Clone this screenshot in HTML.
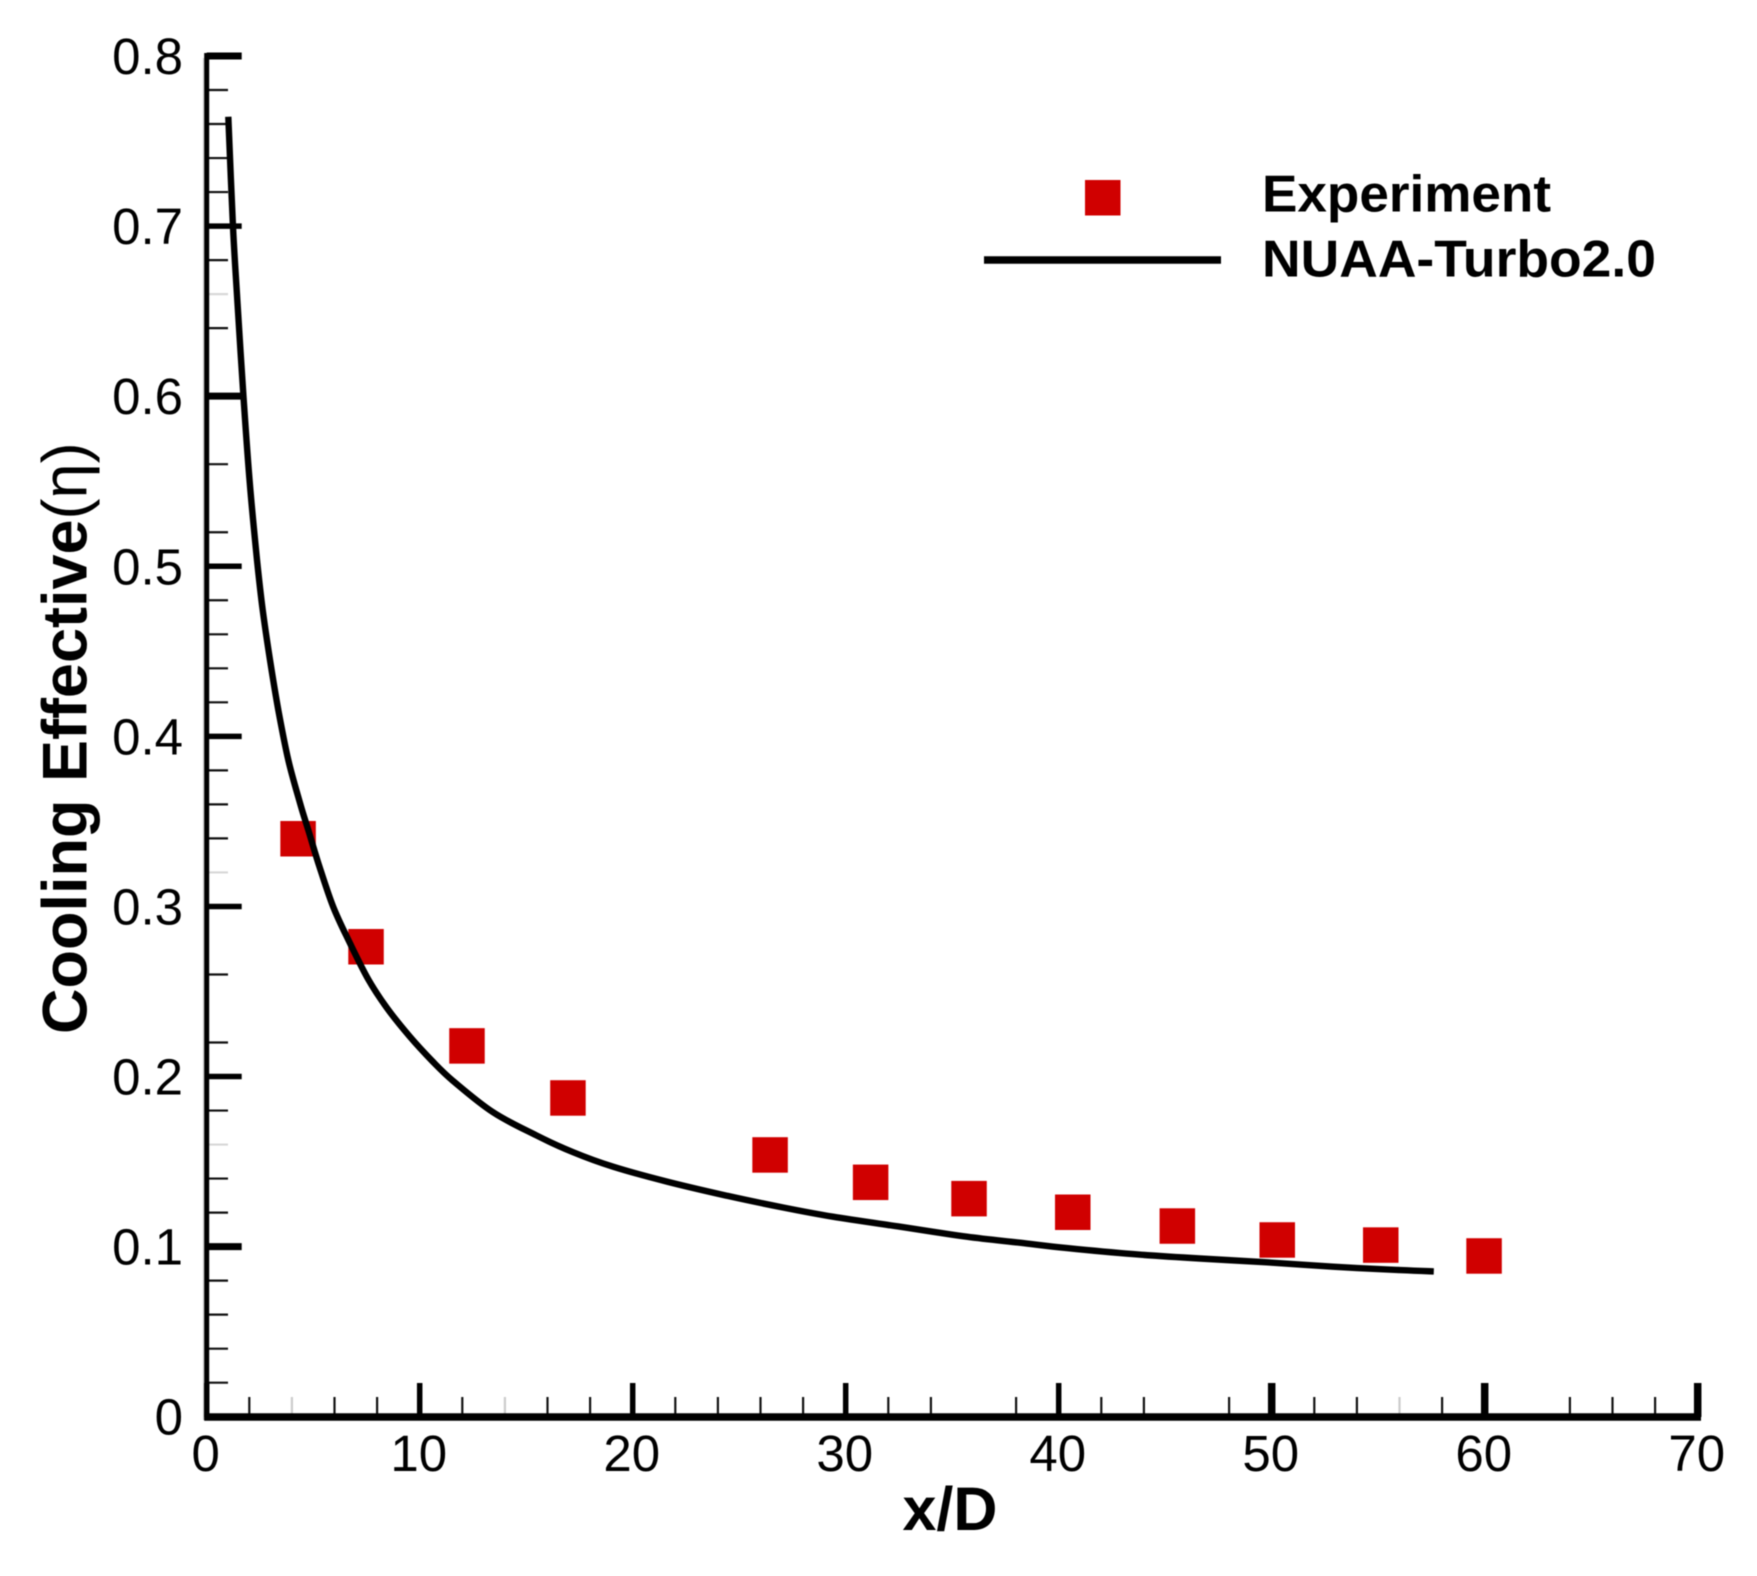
<!DOCTYPE html>
<html lang="en">
<head>
<meta charset="utf-8">
<title>Cooling Effective vs x/D</title>
<style>
html,body{margin:0;padding:0;background:#fff;}
svg{display:block;filter:blur(0.5px);}
text{font-family:"Liberation Sans",Arial,sans-serif;fill:#000;}
</style>
</head>
<body>
<svg id="chart" xmlns="http://www.w3.org/2000/svg" width="1757" height="1576" viewBox="0 0 1757 1576">
  <rect x="0" y="0" width="1757" height="1576" fill="#fff"/>
  <g id="ticks"></g>
  <g id="labels"></g>
  <line x1="203.5" y1="58" x2="203.5" y2="1420" stroke="#ccc" stroke-width="1.2"/>
  <line x1="206.7" y1="53" x2="206.7" y2="1420" stroke="#000" stroke-width="5"/>
  <line x1="204.2" y1="1417" x2="1701" y2="1417" stroke="#000" stroke-width="7.5"/>
  <g id="markers"></g>
  <path id="curve" fill="none" stroke="#000" stroke-width="6.4" stroke-linejoin="round"/>
  <text x="902.5" y="1530" font-size="61" font-weight="bold">x/D</text>
  <text transform="translate(86.7 1034) rotate(-90)" font-size="63" font-weight="bold">Cooling Effective<tspan font-weight="normal">(η)</tspan></text>
  <g>
    <rect x="1085" y="180" width="35.5" height="35.5" fill="#d00000"/>
    <text x="1262" y="211.6" font-size="52" font-weight="bold" textLength="289" lengthAdjust="spacingAndGlyphs">Experiment</text>
    <line x1="984" y1="260" x2="1221" y2="260" stroke="#000" stroke-width="7.5"/>
    <text x="1262" y="276.7" font-size="52" font-weight="bold" textLength="394" lengthAdjust="spacingAndGlyphs">NUAA-Turbo2.0</text>
  </g>
</svg>
<script>
const xMajorTicks = [0, 10, 20, 30, 40, 50, 60, 70];
const xTickLabels = ['0', '10', '20', '30', '40', '50', '60', '70'];
const xMinorTicks = [2, 6, 8, 12, 16, 18, 22, 24, 26, 28, 32, 34, 38, 42, 44, 48, 52, 54, 58, 64, 66, 68];
const xFaintTicks = [4, 14, 56];
const yMajorTicks = [0, 0.1, 0.2, 0.3, 0.4, 0.5, 0.6, 0.7, 0.8];
const yTickLabels = ['0', '0.1', '0.2', '0.3', '0.4', '0.5', '0.6', '0.7', '0.8'];
const yMinorTicks = [0.02, 0.04, 0.06, 0.08, 0.12, 0.14, 0.18, 0.22, 0.26, 0.34, 0.36, 0.38, 0.42, 0.44, 0.46, 0.48, 0.52, 0.56, 0.64, 0.68, 0.72, 0.74, 0.76, 0.78];
const yFaintTicks = [0.16, 0.32, 0.66];

const experimentX = [4.29, 7.48, 12.22, 16.96, 26.45, 31.17, 35.79, 40.66, 45.57, 50.26, 55.12, 59.97];
const experimentY = [0.3398, 0.2763, 0.2180, 0.1874, 0.1539, 0.1378, 0.1282, 0.1202, 0.1121, 0.1039, 0.1009, 0.0945];

const turboX = [1.014, 1.235, 1.437, 1.728, 2.023, 2.362, 2.629, 2.972, 3.362, 3.831, 4.38, 4.77, 5.24, 5.94, 6.73, 7.59, 8.45, 9.54, 10.56, 11.56, 13.44, 15.46, 17.20, 19.08, 21.61, 24.43, 27.06, 29.40, 32.55, 35.69, 38.18, 40.39, 43.49, 46.63, 49.78, 52.88, 56.03, 57.61];
const turboY = [0.7643, 0.6995, 0.6566, 0.5995, 0.5489, 0.5037, 0.4743, 0.4449, 0.4155, 0.3861, 0.3608, 0.3449, 0.3255, 0.2998, 0.2783, 0.2570, 0.2405, 0.2234, 0.2095, 0.1975, 0.1790, 0.1655, 0.1555, 0.1470, 0.1382, 0.1299, 0.1230, 0.1176, 0.1117, 0.1058, 0.1023, 0.0991, 0.0956, 0.0930, 0.0908, 0.0882, 0.0862, 0.0854];

const SVG_NS = 'http://www.w3.org/2000/svg';
function xScale(v) { return 206.7 + (v / 70) * 1491; }
function yScale(v) { return 1416.7 - (v / 0.8) * 1360.7; }

const ticksGroup = document.getElementById('ticks');
const labelsGroup = document.getElementById('labels');
const markersGroup = document.getElementById('markers');

function makeLine(x1, y1, x2, y2, width, color) {
  const el = document.createElementNS(SVG_NS, 'line');
  el.setAttribute('x1', x1);
  el.setAttribute('y1', y1);
  el.setAttribute('x2', x2);
  el.setAttribute('y2', y2);
  el.setAttribute('stroke', color);
  el.setAttribute('stroke-width', width);
  ticksGroup.appendChild(el);
  return el;
}
function makeText(x, y, anchor, content) {
  const el = document.createElementNS(SVG_NS, 'text');
  el.setAttribute('x', x);
  el.setAttribute('y', y);
  el.setAttribute('text-anchor', anchor);
  el.setAttribute('font-size', '51');
  el.textContent = content;
  labelsGroup.appendChild(el);
  return el;
}
function smoothPath(px, py) {
  let d = 'M' + px[0].toFixed(1) + ' ' + py[0].toFixed(1);
  for (let i = 0; i < px.length - 1; i++) {
    const a = Math.max(i - 1, 0);
    const b = Math.min(i + 2, px.length - 1);
    const c1x = px[i] + (px[i + 1] - px[a]) / 6;
    const c1y = py[i] + (py[i + 1] - py[a]) / 6;
    const c2x = px[i + 1] - (px[b] - px[i]) / 6;
    const c2y = py[i + 1] - (py[b] - py[i]) / 6;
    d += 'C' + c1x.toFixed(1) + ' ' + c1y.toFixed(1) + ' ' + c2x.toFixed(1) + ' ' + c2y.toFixed(1) + ' ' + px[i + 1].toFixed(1) + ' ' + py[i + 1].toFixed(1);
  }
  return d;
}

xMajorTicks.forEach(function (v, i) {
  const tick = makeLine(xScale(v), 1417, xScale(v), 1383, v === 70 || v === 60 || v === 50 ? 7.5 : 5.5, '#000');
  
  
  const label = makeText(xScale(v) - 1, 1471, 'middle', xTickLabels[i]);
  
  
});
xMinorTicks.forEach(function (v) {
  const tick = makeLine(xScale(v), 1417, xScale(v), 1397, 2.2, '#111');
  
  
});
xFaintTicks.forEach(function (v) {
  const tick = makeLine(xScale(v), 1417, xScale(v), 1397, 2.2, '#ccc');
  
  
});
yMajorTicks.forEach(function (v, i) {
  const tick = makeLine(206.7, yScale(v), 241.7, yScale(v), v === 0.8 || v === 0.6 || v === 0.1 ? 7 : 5.5, '#000');
  
  
  const label = makeText(183, yScale(v) + 18, 'end', yTickLabels[i]);
  
  
});
yMinorTicks.forEach(function (v) {
  const tick = makeLine(206.7, yScale(v), 228, yScale(v), 2.2, '#111');
  
  
});
yFaintTicks.forEach(function (v) {
  const tick = makeLine(206.7, yScale(v), 228, yScale(v), 2.2, '#d8d8d8');
  
  
});

experimentX.forEach(function (v, i) {
  const el = document.createElementNS(SVG_NS, 'rect');
  el.setAttribute('x', xScale(v) - 17.75);
  el.setAttribute('y', yScale(experimentY[i]) - 17.75);
  el.setAttribute('width', 35.5);
  el.setAttribute('height', 35.5);
  el.setAttribute('fill', '#d00000');
  
  
  markersGroup.appendChild(el);
});

document.getElementById('curve').setAttribute('d', smoothPath(turboX.map(xScale), turboY.map(yScale)));
</script>
</body>
</html>
